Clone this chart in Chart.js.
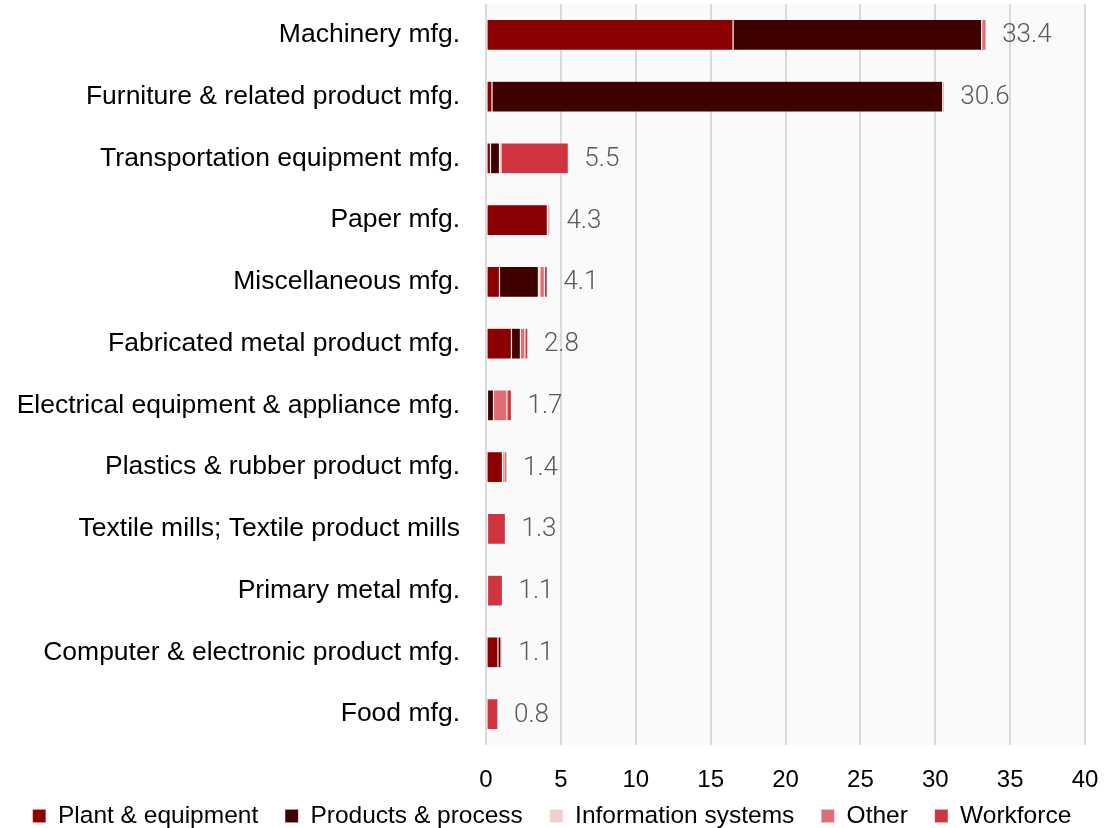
<!DOCTYPE html>
<html>
<head>
<meta charset="utf-8">
<script src="https://cdn.jsdelivr.net/npm/chart.js@4.4.0/dist/chart.umd.min.js"></script>
<style>
  html, body { margin: 0; padding: 0; background: #ffffff; }
  #wrap { width: 1104px; height: 828px; position: relative; }
</style>
</head>
<body>
<div id="wrap"><canvas id="c" width="1104" height="828"></canvas></div>
<script>
const categories = [
  "Machinery mfg.",
  "Furniture & related product mfg.",
  "Transportation equipment mfg.",
  "Paper mfg.",
  "Miscellaneous mfg.",
  "Fabricated metal product mfg.",
  "Electrical equipment & appliance mfg.",
  "Plastics & rubber product mfg.",
  "Textile mills; Textile product mills",
  "Primary metal mfg.",
  "Computer & electronic product mfg.",
  "Food mfg."
];
const plantEquipment   = [16.5, 0.4, 0.3, 4.1, 0.9, 1.7, 0.1, 1.1, 0.1, 0.0, 0.8, 0.0];
const productsProcess  = [16.6, 30.1, 0.6, 0.1, 2.6, 0.6, 0.4, 0.1, 0.0, 0.0, 0.2, 0.0];
const informationSys   = [0.0, 0.0, 0.0, 0.0, 0.1, 0.0, 0.0, 0.0, 0.0, 0.0, 0.0, 0.0];
const otherVals        = [0.3, 0.0, 0.1, 0.1, 0.3, 0.3, 0.9, 0.2, 0.0, 0.1, 0.1, 0.0];
const workforce        = [0.0, 0.1, 4.5, 0.0, 0.2, 0.2, 0.3, 0.0, 1.2, 1.0, 0.0, 0.8];
const totals           = [33.4, 30.6, 5.5, 4.3, 4.1, 2.8, 1.7, 1.4, 1.3, 1.1, 1.1, 0.8];
const xTicks = [0, 5, 10, 15, 20, 25, 30, 35, 40];

const seriesNames = ["Plant & equipment", "Products & process", "Information systems", "Other", "Workforce"];
const seriesColors = ["#8b0000", "#3f0000", "#f4cdd0", "#e06d76", "#d0343f"];
const seriesData = [plantEquipment, productsProcess, informationSys, otherVals, workforce];

const bgPlugin = {
  id: 'plotBg',
  beforeDraw(chart) {
    const { ctx, chartArea } = chart;
    ctx.save();
    ctx.fillStyle = '#fafafa';
    ctx.fillRect(chartArea.left, chartArea.top, chartArea.right - chartArea.left, chartArea.bottom - chartArea.top);
    ctx.restore();
  }
};

const legendShift = {
  id: 'legendShift',
  afterLayout(chart) {
    const lg = chart.legend;
    if (lg) { lg.top -= 39; lg.bottom -= 39; }
  }
};

const totalsPlugin = {
  id: 'totals',
  afterDatasetsDraw(chart) {
    const { ctx, scales } = chart;
    ctx.save();
    ctx.font = '300 26px Roboto, "Liberation Sans", sans-serif';
    ctx.fillStyle = '#595959';
    ctx.textAlign = 'left';
    ctx.textBaseline = 'middle';
    totals.forEach((t, i) => {
      const x = scales.x.getPixelForValue(t) + 16;
      const y = scales.y.getPixelForValue(i);
      ctx.fillText(t.toFixed(1), x, y + 1);
    });
    ctx.restore();
  }
};

new Chart(document.getElementById('c'), {
  type: 'bar',
  data: {
    labels: categories,
    datasets: seriesNames.map((name, k) => ({
      label: name,
      data: seriesData[k],
      backgroundColor: seriesColors[k],
      borderColor: 'rgba(255,255,255,0.22)',
      borderWidth: 0.6,
      borderSkipped: false,
      categoryPercentage: 1.0,
      barPercentage: 0.5
    }))
  },
  options: {
    indexAxis: 'y',
    responsive: false,
    animation: false,
    devicePixelRatio: 1,
    layout: { padding: { top: 4, right: 0, left: 0, bottom: -49.3 } },
    scales: {
      x: {
        stacked: true,
        min: 0,
        max: 40,
        afterBuildTicks(axis) { axis.ticks = xTicks.map(v => ({ value: v })); },
        afterFit(scale) { scale.paddingRight = 19; },
        grid: { color: '#d9d9d9', lineWidth: 2, drawTicks: false },
        border: { display: false },
        ticks: { color: '#000', padding: 21, font: { family: '"Liberation Sans", Arial, sans-serif', size: 24 } }
      },
      y: {
        stacked: true,
        afterFit(scale) { scale.paddingTop = 0; scale.paddingBottom = 0; scale.width = 486; },
        grid: { display: false, drawTicks: false },
        border: { display: false },
        ticks: { color: '#000', padding: 26, font: { family: '"Liberation Sans", Arial, sans-serif', size: 26.5 } }
      }
    },
    plugins: {
      legend: {
        position: 'bottom',
        labels: {
          boxWidth: 13,
          boxHeight: 13,
          padding: 27,
          color: '#000',
          font: { family: '"Liberation Sans", Arial, sans-serif', size: 24.5 }
        }
      },
      tooltip: { enabled: false }
    }
  },
  plugins: [bgPlugin, legendShift, totalsPlugin]
});
</script>
</body>
</html>
